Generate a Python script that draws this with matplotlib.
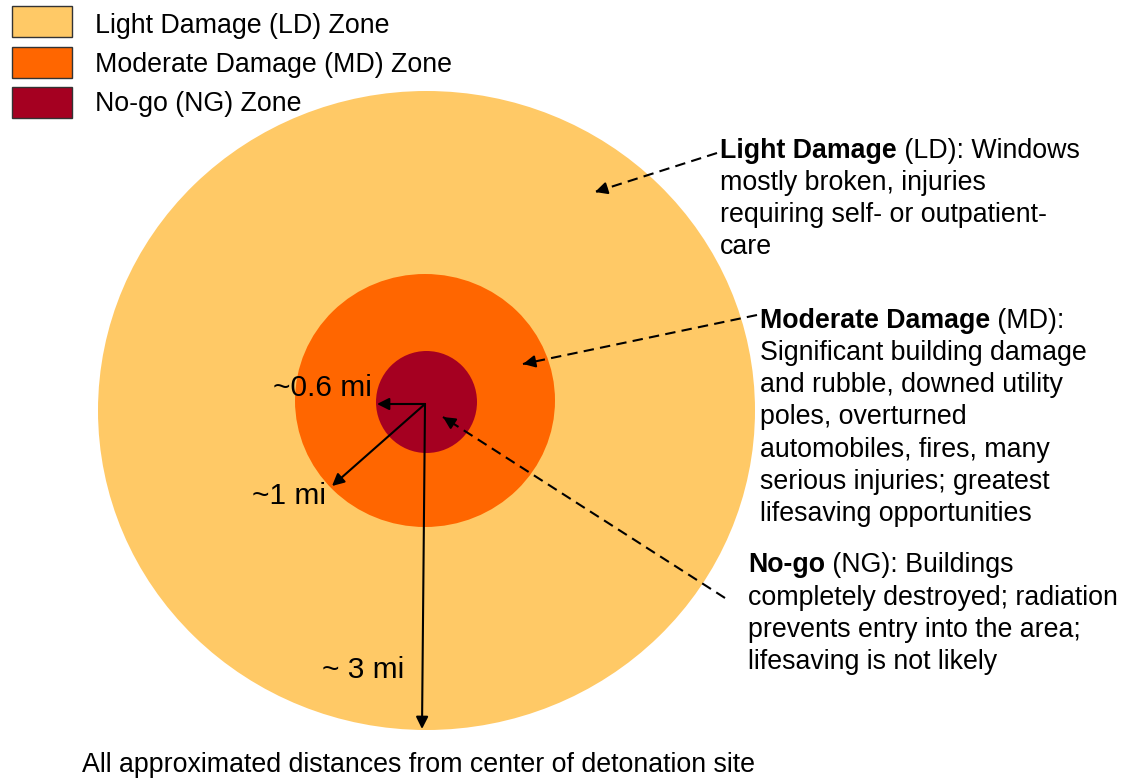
import matplotlib.pyplot as plt
from matplotlib.patches import Ellipse, Rectangle

plt.rcParams['font.family'] = ['Liberation Sans', 'DejaVu Sans']

# zones, outer to inner
zone_names = ['Light Damage (LD) Zone', 'Moderate Damage (MD) Zone', 'No-go (NG) Zone']
zone_colors = ['#FFC966', '#FF6600', '#A50021']
distance_labels = ['~ 3 mi', '~1 mi', '~0.6 mi']

ld_bold, ld_rest = 'Light Damage', ' (LD): Windows'
ld_lines = ['mostly broken, injuries', 'requiring self- or outpatient-', 'care']
md_bold, md_rest = 'Moderate Damage', ' (MD):'
md_lines = ['Significant building damage', 'and rubble, downed utility', 'poles, overturned',
            'automobiles, fires, many', 'serious injuries; greatest', 'lifesaving opportunities']
ng_bold, ng_rest = 'No-go', ' (NG): Buildings'
ng_lines = ['completely destroyed; radiation', 'prevents entry into the area;', 'lifesaving is not likely']
footnote = 'All approximated distances from center of detonation site'

W, H = 1133, 779
fig = plt.figure(figsize=(W / 100, H / 100), dpi=100)
ax = fig.add_axes([0, 0, 1, 1])
ax.set_xlim(0, W)
ax.set_ylim(H, 0)
ax.axis('off')

fs = 19.3

# circles (drawing geometry in pixels)
ax.add_patch(Ellipse((426.5, 410.5), 657, 639, color=zone_colors[0], lw=0))
ax.add_patch(Ellipse((425, 400.5), 260, 253, color=zone_colors[1], lw=0))
ax.add_patch(Ellipse((426.5, 402), 101, 102, color=zone_colors[2], lw=0))

# legend
for i, (name, c) in enumerate(zip(zone_names, zone_colors)):
    y0 = 6 + i * 40.5
    ax.add_patch(Rectangle((12, y0), 60, 31, facecolor=c, edgecolor='#333333', lw=1))
    ax.text(95, 25.5 + i * 39, name, fontsize=fs, va='center', ha='left')

# radius arrows
cx, cy = 425, 404
solid = dict(arrowstyle='-|>', color='black', lw=1.5, mutation_scale=18, shrinkA=0, shrinkB=0)
ax.annotate('', xy=(377, 404), xytext=(cx, cy), arrowprops=solid)
ax.annotate('', xy=(332, 486), xytext=(cx, cy), arrowprops=solid)
ax.annotate('', xy=(422, 729), xytext=(cx, cy), arrowprops=solid)

ax.text(322, 669.5, distance_labels[0], fontsize=21.5, va='center', ha='left')
ax.text(252, 495.5, distance_labels[1], fontsize=21.5, va='center', ha='left')
ax.text(273, 387.5, distance_labels[2], fontsize=21.5, va='center', ha='left')


# dashed pointer arrows
def pointer(start, end):
    ax.plot([start[0], end[0]], [start[1], end[1]], color='black', lw=1.5, ls=(0, (5, 3)))
    dx, dy = end[0] - start[0], end[1] - start[1]
    n = (dx ** 2 + dy ** 2) ** 0.5
    back = (end[0] - dx / n * 12, end[1] - dy / n * 12)
    ax.annotate('', xy=end, xytext=back, arrowprops=solid)


pointer((717, 153), (595, 192))
pointer((757, 315), (523, 364))
pointer((725, 598), (443, 417))


# description blocks
def block(x, y, bold, rest, lines, dy):
    t = ax.text(x, y, bold, fontsize=fs, fontweight='bold', va='center', ha='left')
    ax.annotate(rest, xy=(1, 0.5), xycoords=t, fontsize=fs, va='center', ha='left')
    for i, line in enumerate(lines):
        ax.text(x, y + (i + 1) * dy, line, fontsize=fs, va='center', ha='left')


block(720, 150.5, ld_bold, ld_rest, ld_lines, 32)
block(760, 320.5, md_bold, md_rest, md_lines, 32.3)
block(748, 565.5, ng_bold, ng_rest, ng_lines, 32.3)

ax.text(82, 764.5, footnote, fontsize=fs, va='center', ha='left')

fig.savefig('out.png', dpi=100, facecolor='white')
